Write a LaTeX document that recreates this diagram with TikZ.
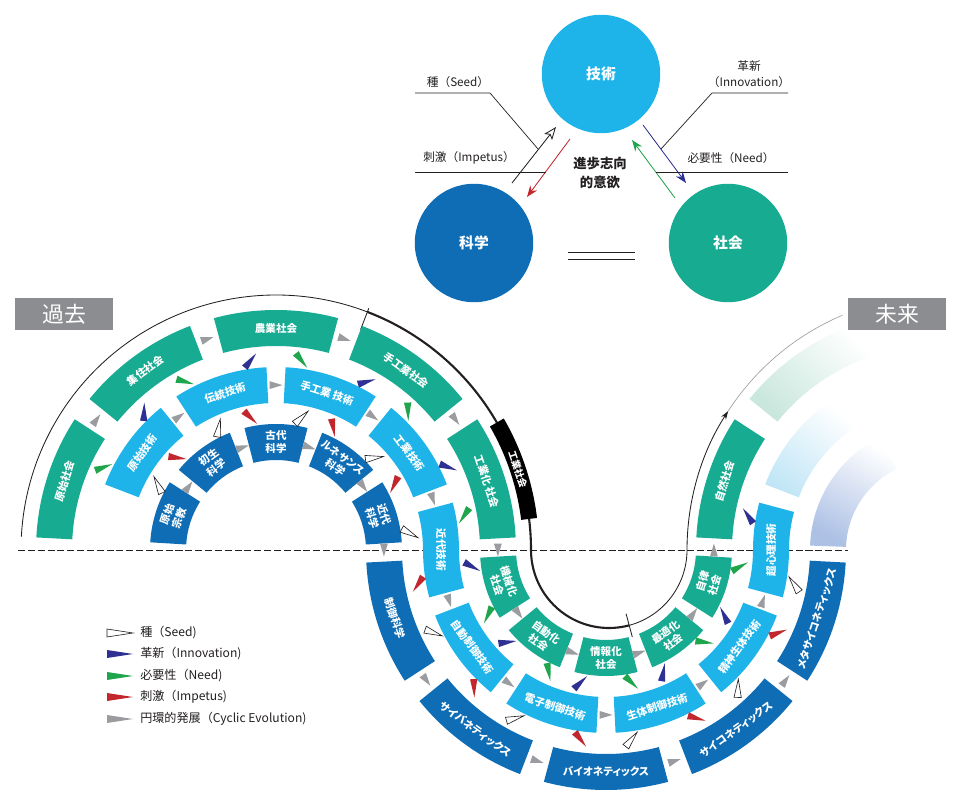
\documentclass[tikz,border=0pt]{standalone}
\usepackage{fontspec}
\setmainfont{Noto Sans CJK JP}
\newfontfamily\jpp{Noto Sans CJK JP}[RawFeature=+palt]
\usetikzlibrary{calc,arrows.meta}
\definecolor{soc}{HTML}{17AB92}
\definecolor{tec}{HTML}{1EB4EA}
\definecolor{sci}{HTML}{0E6DB5}
\definecolor{gtri}{HTML}{9B9C9F}
\definecolor{rtri}{HTML}{C1272D}
\definecolor{btri}{HTML}{2E3192}
\definecolor{ntri}{HTML}{1FA54C}
\definecolor{lbl}{HTML}{8C8D90}
\definecolor{fsoc}{HTML}{C9E7DD}
\definecolor{ftec}{HTML}{C2E6F6}
\definecolor{fsci}{HTML}{ADC1E5}
\definecolor{ink}{HTML}{231F20}
% 1 centre, 2 angle, 3 half span, 4 r1, 5 r2, 6 colour, 7 name, 8 rotation, 9 text
\newcommand\ringbox[9]{%
  \fill[#6] ($(#1)+({#2-#3}:#5)$) arc[start angle={#2-#3},end angle={#2+#3},radius=#5]
    -- ($(#1)+({#2+#3}:#4)$) arc[start angle={#2+#3},end angle={#2-#3},radius=#4] -- cycle;
  \node[boxtxt,rotate=#8] (#7) at ($(#1)+(#2:{(#4+#5)/2})$) {#9};}
% plain sector path with style
\newcommand\sectpath[6]{%
  \path[#6] ($(#1)+(#2:#5)$) arc[start angle=#2,end angle=#3,radius=#5]
    -- ($(#1)+(#3:#4)$) arc[start angle=#3,end angle=#2,radius=#4] -- cycle;}
% triangle from #1 to #2, style #3, half length #4, half width #5
\newcommand\tri[5]{%
  \coordinate (tm) at ($(#1)!0.5!(#2)$);
  \coordinate (tb) at ($(tm)!-#4!(#2)$);
  \path[#3] ($(tm)!#4!(#2)$) -- ($(tb)!#5!90:(#2)$) -- ($(tb)!#5!-90:(#2)$) -- cycle;}
% cyclic-evolution triangle on a ring
\newcommand\garc[4]{%
  \coordinate (ga) at ($(#1)+({#2+(#4)}:#3)$);
  \coordinate (gb) at ($(#1)+({#2-(#4)}:#3)$);
  \tri{ga}{gb}{cycT}{4.6pt}{2.8pt}}
\begin{document}
\begin{tikzpicture}[x=0.025cm,y=0.025cm,
  boxtxt/.style={text=white,font=\jpp\bfseries\fontsize{7.5}{9}\selectfont,align=center,inner sep=0pt},
  seedT/.style={fill=white,draw=ink,line width=0.45pt},
  innoT/.style={fill=btri},
  needT/.style={fill=ntri},
  impT/.style={fill=rtri},
  cycT/.style={fill=gtri},
  circ/.style={circle,minimum size=2.96cm,inner sep=0pt,text=white,font=\bfseries\fontsize{10.5}{12}\selectfont},
  lab/.style={text=ink,font=\fontsize{8.3}{11}\selectfont,inner sep=0pt,align=center},
  leg/.style={text=ink,font=\fontsize{8.6}{10}\selectfont,inner sep=0pt,anchor=west},
  lblbox/.style={fill=lbl,text=white,minimum width=2.45cm,minimum height=0.8cm,inner sep=0pt,font=\fontsize{15.5}{17}\selectfont},
  lline/.style={draw=ink,line width=0.5pt}]
\useasboundingbox (0,0) rectangle (960,803);
\coordinate (CL) at (276,253);
\coordinate (CR) at (606,253);
\coordinate (C3) at (936,253);

% dashed horizon
\coordinate (dL) at (18,253);
\coordinate (dR) at (848,253);
\draw[ink,line width=0.55pt,dash pattern=on 5pt off 2pt] (dL) -- (dR);

% S-curve
\draw[ink,line width=0.6pt] ($(CL)+(177:255)$) arc[start angle=177,end angle=69,radius=255] coordinate (k1);
\draw[ink,line width=1.5pt] (k1) arc[start angle=69,end angle=0,radius=255]
   arc[start angle=180,end angle=285,radius=78] coordinate (k2);
\draw[ink,line width=0.6pt,-{Stealth[length=6pt,width=4pt]}] (k2) arc[start angle=285,end angle=360,radius=78]
   arc[start angle=180,end angle=147,radius=255] coordinate (k3);
\draw[gtri,line width=0.45pt] (k3) arc[start angle=147,end angle=113,radius=255];
\draw[ink,line width=0.6pt] ($(CL)+(69:236)$) -- ($(CL)+(69:259)$);
\coordinate (CRa) at (609,253);
\draw[ink,line width=0.6pt] ($(CRa)+(285:66)$) -- ($(CRa)+(285:90)$);

% black era box
\fill[black] ($(CL)+(30:263)$) arc[start angle=30,end angle=7,radius=263]
  -- ($(CL)+(7:247)$) arc[start angle=7,end angle=30,radius=247] -- cycle;
\node[text=white,font=\bfseries\fontsize{6.8}{8}\selectfont,rotate=-71.5,inner sep=0pt] (era) at ($(CL)+(18.5:255)$) {工業社会};

% faded future boxes
\sectpath{C3}{141}{108}{204}{240}{top color=white,bottom color=fsoc,shading angle=-45}
\sectpath{C3}{159}{124}{147}{183}{top color=white,bottom color=ftec,shading angle=-37}
\sectpath{C3}{178}{116}{90}{126}{top color=white,bottom color=fsci,shading angle=-29}

% left half (past)
\ringbox{CL}{162}{14.5}{90}{126}{sci}{S0}{72}{原始\\宗教}
\ringbox{CL}{126}{14.5}{90}{126}{sci}{S1}{36}{初生\\科学}
\ringbox{CL}{90}{14.5}{90}{126}{sci}{S2}{0}{古代\\科学}
\ringbox{CL}{54}{14.5}{90}{126}{sci}{S3}{-36}{ルネサンス\\科学}
\ringbox{CL}{18}{14.5}{90}{126}{sci}{S4}{-72}{近代\\科学}
\ringbox{CL}{144}{15}{147}{183}{tec}{T0}{54}{原始技術}
\ringbox{CL}{108}{15}{147}{183}{tec}{T1}{18}{伝統技術}
\ringbox{CL}{72}{15}{147}{183}{tec}{T2}{-18}{手工業 技術}
\ringbox{CL}{36}{15}{147}{183}{tec}{T3}{-54}{工業技術}
\ringbox{CL}{162}{15}{204}{240}{soc}{O0}{72}{原始社会}
\ringbox{CL}{126}{15}{204}{240}{soc}{O1}{36}{集住社会}
\ringbox{CL}{90}{15}{204}{240}{soc}{O2}{0}{農業社会}
\ringbox{CL}{54}{15}{204}{240}{soc}{O3}{-36}{手工業社会}
\ringbox{CL}{18}{15}{204}{240}{soc}{O4}{-72}{工業化 社会}

% crossing technology boxes
\fill[tec] ($(CL)+(15:183)$) arc[start angle=15,end angle=0,radius=183]
  arc[start angle=180,end angle=195,radius=147] -- ($(CR)+(195:183)$)
  arc[start angle=195,end angle=180,radius=183] arc[start angle=0,end angle=15,radius=147] -- cycle;
\node[boxtxt,rotate=-90] (T4) at ($(CL)+(0:165)$) {近代技術};
\fill[tec] ($(CR)+(345:147)$) arc[start angle=345,end angle=360,radius=147]
  arc[start angle=180,end angle=165,radius=183] -- ($(C3)+(165:147)$)
  arc[start angle=165,end angle=180,radius=147] arc[start angle=360,end angle=345,radius=183] -- cycle;
\node[boxtxt,rotate=90] (T9) at ($(CR)+(0:165)$) {超心理技術};

% right half (present / future)
\ringbox{CR}{198}{14.5}{90}{126}{soc}{O5}{-72}{機械化\\社会}
\ringbox{CR}{234}{14.5}{90}{126}{soc}{O6}{-36}{自動化\\社会}
\ringbox{CR}{270}{14.5}{90}{126}{soc}{O7}{0}{情報化\\社会}
\ringbox{CR}{306}{14.5}{90}{126}{soc}{O8}{36}{最適化\\社会}
\ringbox{CR}{342}{14.5}{90}{126}{soc}{O9}{72}{自律\\社会}
\ringbox{CR}{216}{15}{147}{183}{tec}{T5}{-54}{自動制御技術}
\ringbox{CR}{252}{15}{147}{183}{tec}{T6}{-18}{電子制御技術}
\ringbox{CR}{288}{15}{147}{183}{tec}{T7}{18}{生体制御技術}
\ringbox{CR}{324}{15}{147}{183}{tec}{T8}{54}{精神生体技術}
\ringbox{CR}{198}{15}{204}{240}{sci}{S5}{-72}{制御科学}
\ringbox{CR}{234}{15}{204}{240}{sci}{S6}{-36}{サイバネティックス}
\ringbox{CR}{270}{15}{204}{240}{sci}{S7}{0}{バイオネティックス}
\ringbox{CR}{306}{15}{204}{240}{sci}{S8}{36}{サイコネティックス}
\ringbox{CR}{342}{15}{204}{240}{sci}{S9}{72}{メタサイコネティックス}
\ringbox{C3}{162}{15}{204}{240}{soc}{O10}{72}{自然社会}

% relations between eras
\foreach \k in {0,...,9} {\tri{S\k.center}{T\k.center}{seedT}{6.5pt}{2.6pt}}
\foreach \k in {0,...,9} {\tri{O\k.center}{T\k.center}{needT}{6.5pt}{2.6pt}}
\foreach \k [evaluate=\k as \n using int(\k+1)] in {0,...,9} {\tri{T\k.center}{O\n.center}{innoT}{6.5pt}{2.6pt}}
\foreach \k [evaluate=\k as \n using int(\k+1)] in {0,...,8} {\tri{T\k.center}{S\n.center}{impT}{6.5pt}{2.6pt}}

% cyclic evolution along the rings
\foreach \a in {144,108,72,36,0} {\garc{CL}{\a}{222}{2}}
\foreach \a in {144,108,72,36,0} {\garc{CL}{\a}{108}{2}}
\foreach \a in {126,90,54,18} {\garc{CL}{\a}{165}{2}}
\foreach \a in {216,252,288,324,360} {\garc{CR}{\a}{108}{-2}}
\foreach \a in {216,252,288,324} {\garc{CR}{\a}{222}{-2}}
\foreach \a in {198,234,270,306,342} {\garc{CR}{\a}{165}{-2}}

% past / future labels
\node[lblbox] (past) at (64,489) {過去};
\node[lblbox] (future) at (897,488.5) {未来};

% top triangle
\node[circ,fill=tec] (gi) at (601,729) {技術};
\node[circ,fill=sci] (ka) at (474,560) {科学};
\node[circ,fill=soc] (sh) at (728,560) {社会};
\coordinate (sdA) at (512,620); \coordinate (sdB) at (556,676);
\coordinate (imA) at (570,664); \coordinate (imB) at (527,606);
\coordinate (ndA) at (675,605); \coordinate (ndB) at (632,663);
\coordinate (inA) at (643,678); \coordinate (inB) at (686,620);
\draw[ink,line width=0.6pt,-{Stealth[fill=white,length=9pt,width=7pt,inset=2pt]}] (sdA) -- (sdB);
\draw[rtri,line width=0.6pt,-{Stealth[length=8pt,width=6pt]}] (imA) -- (imB);
\draw[ntri,line width=0.6pt,-{Stealth[length=8pt,width=6pt]}] (ndA) -- (ndB);
\draw[btri,line width=0.6pt,-{Stealth[length=8pt,width=6pt]}] (inA) -- (inB);
\coordinate (l1a) at (415,710); \coordinate (l1b) at (490,710); \coordinate (l1c) at (538,654);
\coordinate (l2a) at (415,631); \coordinate (l2b) at (546,631);
\coordinate (l3a) at (788,710); \coordinate (l3b) at (712,710); \coordinate (l3c) at (661,654);
\coordinate (l4a) at (788,631); \coordinate (l4b) at (656,631);
\draw[lline] (l1a) -- (l1b) -- (l1c);
\draw[lline] (l2a) -- (l2b);
\draw[lline] (l3a) -- (l3b) -- (l3c);
\draw[lline] (l4a) -- (l4b);
\node[lab] (tseed) at (458,721) {種（Seed）};
\node[lab] (timp) at (469,645) {刺激（Impetus）};
\node[lab] (tinno) at (749,729) {革新\\（Innovation）};
\node[lab] (tneed) at (731,645) {必要性（Need）};
\node[lab,font=\bfseries\fontsize{9.5}{14}\selectfont] (prog) at (600,630) {進歩志向\\的意欲};
\coordinate (eqa) at (568,551); \coordinate (eqb) at (635,551);
\coordinate (eqc) at (568,544); \coordinate (eqd) at (635,544);
\draw[ink,line width=0.6pt] (eqa) -- (eqb);
\draw[ink,line width=0.6pt] (eqc) -- (eqd);

% legend
\node[leg] (lg1) at (140,170) {種（Seed)};
\node[leg] (lg2) at (140,149) {革新（Innovation)};
\node[leg] (lg3) at (140,127) {必要性（Need)};
\node[leg] (lg4) at (140,106) {刺激（Impetus)};
\node[leg] (lg5) at (140,84) {円環的発展（Cyclic Evolution)};
\foreach \n/\s in {lg1/seedT,lg2/innoT,lg3/needT,lg4/impT,lg5/cycT}
  {\path[\s] ($(\n.west)+(-33,4)$) -- ($(\n.west)+(-7,0)$) -- ($(\n.west)+(-33,-4)$) -- cycle;}
\end{tikzpicture}
\end{document}
